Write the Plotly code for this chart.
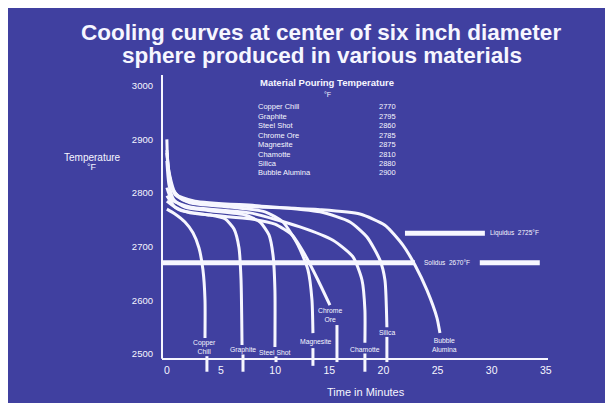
import plotly.graph_objects as go

# ---------------- data ----------------
materials = ["Copper Chill", "Graphite", "Steel Shot", "Chrome Ore",
             "Magnesite", "Chamotte", "Silica", "Bubble Alumina"]
pour_temps = [2770, 2795, 2860, 2785, 2875, 2810, 2880, 2900]

copper_t = [0, 0.75, 1.67, 2.41, 2.96, 3.33, 3.52, 3.52]
copper_T = [2770, 2761, 2746, 2726, 2698, 2657, 2601, 2530]

graphite_t = [0, 0.75, 2.13, 3.98, 5.36, 6.20, 6.66, 6.85, 6.94]
graphite_T = [2795, 2774, 2763, 2759, 2752, 2733, 2698, 2638, 2517]

steel_t = [0, 0.2, 0.66, 1.67, 3.98, 7.22, 8.60, 9.43, 9.80, 9.98, 9.98]
steel_T = [2860, 2815, 2787, 2774, 2767, 2759, 2746, 2722, 2685, 2619, 2513]

chrome_t = [0, 1.21, 3.98, 7.68, 9.98, 11.55, 12.75, 13.95, 15.06]
chrome_T = [2785, 2768, 2759, 2752, 2742, 2722, 2685, 2638, 2591]

magnesite_t = [0, 0.2, 0.75, 2.13, 5.82, 9.06, 10.72, 12.11, 13.03, 13.40, 13.49]
magnesite_T = [2875, 2834, 2797, 2782, 2774, 2765, 2746, 2703, 2657, 2601, 2539]

chamotte_t = [0, 0.47, 2.13, 7.68, 12.29, 15.34, 17.19, 18.02, 18.29, 18.29]
chamotte_T = [2810, 2787, 2774, 2763, 2737, 2712, 2681, 2638, 2582, 2521]

silica_t = [0, 0.2, 0.84, 2.59, 8.60, 14.14, 16.91, 18.48, 19.68, 20.14, 20.32]
silica_T = [2880, 2839, 2798, 2785, 2776, 2765, 2746, 2718, 2675, 2638, 2550]

alumina_t = [0, 0.1, 0.56, 1.49, 3.06, 8.60, 14.14, 17.83, 20.14, 21.80, 22.91, 24.02, 24.95, 25.22]
alumina_T = [2900, 2852, 2806, 2787, 2780, 2774, 2769, 2761, 2740, 2703, 2666, 2619, 2567, 2539]

# short continuations of the curves below their labels (through the time axis)
tail_t = [3.70, 7.03, 10.08, 15.71, 13.49, 18.29, 20.32]
tail_T_top = [2496, 2502, 2498, 2554, 2511, 2502, 2532]
tail_T_bot = [2467, 2467, 2485, 2485, 2478, 2467, 2485]

# curve end labels
end_labels = ["Copper<br>Chill", "Graphite", "Steel Shot", "Chrome<br>Ore",
              "Magnesite", "Chamotte", "Silica", "Bubble<br>Alumina"]
end_label_t = [3.52, 7.03, 9.98, 15.06, 13.77, 18.29, 20.32, 25.68]
end_label_T = [2513, 2507, 2503, 2573, 2523, 2509, 2541, 2516]

liquidus_T = 2725
liquidus_t = [21.99, 29.37]
solidus_T = 2670
solidus_t1 = [-0.45, 22.91]
solidus_t2 = [28.90, 34.44]

y_ticks = [2500, 2600, 2700, 2800, 2900, 3000]
x_ticks = [0, 5, 10, 15, 20, 25, 30, 35]

# ---------------- layout constants ----------------
# the page body adds an 8px white margin (top/left), like the photo's border
OFF = 8
W, H = 613, 403
L, R, T, B = 162 - OFF, 73, 75 - OFF, 39
PW, PH = W - L - R, H - T - B
BLUE = "rgb(64,64,160)"
FG = "rgb(246,246,255)"
FONT = "Liberation Sans, Arial, sans-serif"


def px(xp):
    """window x pixel -> paper fraction"""
    return (xp - OFF - L) / PW


def py(yp):
    """window y pixel -> paper fraction"""
    return (H - B - (yp - OFF)) / PH


fig = go.Figure()

curves = [(copper_t, copper_T), (graphite_t, graphite_T), (steel_t, steel_T),
          (chrome_t, chrome_T), (magnesite_t, magnesite_T), (chamotte_t, chamotte_T),
          (silica_t, silica_T), (alumina_t, alumina_T)]
for name, (tt, TT) in zip(materials, curves):
    fig.add_trace(go.Scatter(x=tt, y=TT, mode="lines", name=name,
                             line=dict(color=FG, width=3, shape="spline", smoothing=0.6),
                             hoverinfo="skip"))

for t, a, b in zip(tail_t, tail_T_top, tail_T_bot):
    fig.add_trace(go.Scatter(x=[t, t], y=[a, b], mode="lines",
                             line=dict(color=FG, width=3), hoverinfo="skip"))

fig.add_trace(go.Scatter(x=liquidus_t, y=[liquidus_T] * 2, mode="lines",
                         line=dict(color=FG, width=5), hoverinfo="skip"))
fig.add_trace(go.Scatter(x=solidus_t1, y=[solidus_T] * 2, mode="lines",
                         line=dict(color=FG, width=5), hoverinfo="skip"))
fig.add_trace(go.Scatter(x=solidus_t2, y=[solidus_T] * 2, mode="lines",
                         line=dict(color=FG, width=5), hoverinfo="skip"))


def txt(x, y, text, size, xanchor="center", bold=False, xref="paper", yref="paper", bg=None):
    d = dict(x=x, y=y, xref=xref, yref=yref, showarrow=False,
             xanchor=xanchor, yanchor="middle",
             text=f"<b>{text}</b>" if bold else text,
             font=dict(size=size, color=FG, family=FONT))
    if bg:
        d.update(bgcolor=bg, borderpad=0)
    return d


ann = []
for lab, t, TT in zip(end_labels, end_label_t, end_label_T):
    ann.append(txt(t, TT, lab, 6.8, xref="x", yref="y", bg=BLUE))

ann.append(txt(liquidus_t[1] + 0.28, liquidus_T, "Liquidus  2725°F", 6.5,
               xanchor="left", xref="x", yref="y"))
ann.append(txt(solidus_t1[1] + 0.64, solidus_T, "Solidus  2670°F", 6.5,
               xanchor="left", xref="x", yref="y"))

# title
ann.append(txt(px(321), py(33), "Cooling curves at center of six inch diameter", 22.5, bold=True))
ann.append(txt(px(322), py(55), "sphere produced in various materials", 22.5, bold=True))

# axis titles
ann.append(txt(px(92), py(157), "Temperature", 10))
ann.append(txt(px(92), py(167), "°F", 9))
ann.append(txt(px(366), py(392), "Time in Minutes", 11))

# material table
ann.append(txt(px(327), py(82), "Material Pouring Temperature", 9.5, bold=True))
ann.append(txt(px(327), py(94), "°F", 7))
for i, (m, v) in enumerate(zip(materials, pour_temps)):
    yy = py(107 + 9.4 * i)
    ann.append(txt(px(256), yy, m, 7.5, xanchor="left"))
    ann.append(txt(px(377), yy, str(v), 7.5, xanchor="left"))

shapes = [
    # temperature axis line
    dict(type="line", xref="paper", yref="y", x0=0, x1=0, y0=2491, y1=3020,
         line=dict(color=FG, width=2)),
]

fig.update_layout(
    width=W, height=H,
    margin=dict(l=L, r=R, t=T, b=B),
    paper_bgcolor=BLUE, plot_bgcolor="rgba(0,0,0,0)",
    showlegend=False,
    annotations=ann, shapes=shapes,
    font=dict(family=FONT, color=FG),
    xaxis=dict(range=[-0.45, 35.2], tickvals=x_ticks, showgrid=False, zeroline=False,
               showline=True, linecolor=FG, linewidth=2, anchor="free",
               position=(H - B - (359 - OFF)) / PH, ticks="", ticklabelstandoff=1,
               tickfont=dict(size=10.5, color=FG, family=FONT)),
    yaxis=dict(range=[2466.5, 3020], tickvals=y_ticks, showgrid=False, zeroline=False,
               showline=False, ticks="", ticklabelstandoff=8,
               tickfont=dict(size=9.5, color=FG, family=FONT)),
)

fig.write_html("out.html")
